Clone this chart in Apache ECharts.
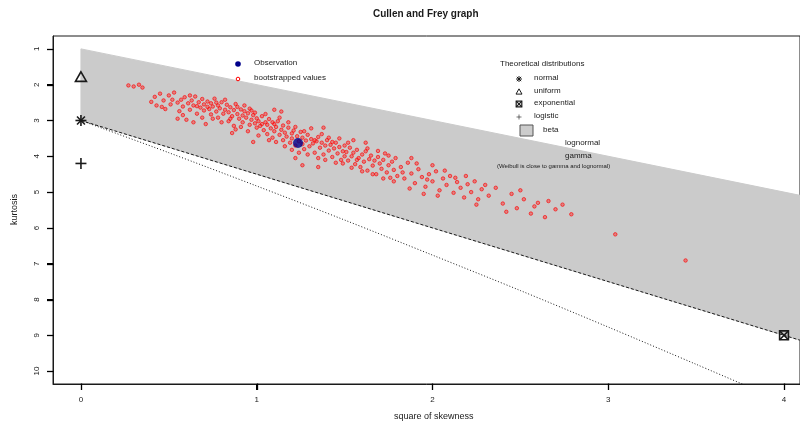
<!DOCTYPE html>
<html>
<head>
<meta charset="utf-8">
<script src="https://cdn.jsdelivr.net/npm/echarts@6/dist/echarts.min.js"></script>
<style>
  html, body { margin: 0; padding: 0; background: #fff; }
  #chart { width: 800px; height: 431px; }
</style>
</head>
<body>
<div id="chart"></div>
<script>
// Axis ticks
var xTicks = [0, 1, 2, 3, 4];
var yTicks = [1, 2, 3, 4, 5, 6, 7, 8, 9, 10];
var xRange = [-0.159, 4.091];
var yRange = [0.64, 10.36];

// Beta region corners (square of skewness, kurtosis)
var betaRegion = [[0, 1], [4.5, 5.5], [4.5, 9.75], [0, 3]];

// Gamma line (dashed) and lognormal curve (dotted)
var gammaLine = [[0, 3], [4.5, 9.75]];
var lognormLine = [[0, 3], [0.5, 3.90], [1, 4.83], [1.5, 5.78], [2, 6.76], [2.5, 7.75], [3, 8.77], [3.5, 9.81], [4, 10.86]];

// Theoretical distributions (points)
var theoNames = ['normal', 'uniform', 'exponential', 'logistic'];
var theoSkew = [0, 0, 4, 0];
var theoKurt = [3, 1.8, 9, 4.2];

// Observation
var obsPoint = [1.235, 3.63];

// Bootstrapped values
var bootPoints = [
  [0.27,2.02],[0.30,2.05],[0.33,2.00],[0.35,2.08],[0.40,2.48],[0.42,2.34],[0.43,2.58],[0.45,2.25],
  [0.47,2.44],[0.48,2.68],[0.50,2.30],[0.51,2.55],[0.53,2.22],[0.55,2.50],[0.56,2.74],
  [0.57,2.42],[0.58,2.61],[0.59,2.35],[0.60,2.98],[0.61,2.52],[0.62,2.70],[0.63,2.44],[0.64,2.58],
  [0.65,2.33],[0.66,2.81],[0.67,2.49],[0.68,2.64],[0.69,2.40],[0.70,2.72],[0.70,2.55],[0.71,3.10],
  [0.72,2.47],[0.73,2.68],[0.74,2.83],[0.74,2.52],[0.75,2.61],[0.76,2.39],[0.77,2.75],[0.78,2.58],
  [0.78,2.92],[0.79,2.66],[0.80,2.49],[0.81,2.81],[0.82,2.70],[0.83,2.56],[0.84,3.02],[0.84,2.77],
  [0.85,2.63],[0.86,2.88],[0.87,2.71],[0.88,2.54],[0.88,3.25],[0.89,2.82],[0.90,2.95],[0.91,2.69],
  [0.92,2.86],[0.92,3.05],[0.93,2.74],[0.94,2.92],[0.95,2.80],[0.96,3.12],[0.96,2.67],[0.97,2.98],
  [0.98,2.85],[0.99,3.08],[1.00,2.94],[1.00,3.20],
  [1.01,3.02],[1.02,3.15],[1.03,2.88],[1.04,3.27],[1.05,3.05],[1.06,3.38],[1.06,3.12],[1.07,2.96],
  [1.08,3.22],[1.09,3.48],[1.10,3.10],[1.10,3.30],[1.11,3.18],[1.12,3.02],[1.13,3.40],[1.14,3.26],
  [1.15,3.55],[1.15,3.14],[1.16,3.34],[1.17,3.45],[1.18,3.20],[1.19,3.62],[1.20,3.36],[1.20,3.50],
  [1.21,3.28],[1.22,3.70],[1.23,3.44],[1.24,3.58],[1.25,3.32],[1.26,3.66],[1.26,3.48],[1.27,3.80],
  [1.28,3.56],[1.29,3.40],[1.30,3.72],[1.31,3.52],[1.32,3.64],[1.33,3.90],[1.34,3.58],[1.35,3.46],
  [1.36,3.76],[1.37,3.62],[1.38,3.95],[1.39,3.70],[1.40,3.55],[1.41,3.84],[1.42,3.68],[1.43,4.02],
  [1.44,3.78],[1.45,3.62],[1.46,3.92],[1.47,3.74],[1.48,4.10],[1.49,3.86],[1.50,3.70],[1.50,4.00],
  [1.26,4.25],[1.35,4.30],[1.14,2.75],[1.22,4.05],
  [1.51,3.88],[1.52,4.12],[1.53,3.76],[1.54,4.00],[1.55,3.90],[1.56,4.22],[1.57,3.82],[1.58,4.05],
  [1.59,4.30],[1.60,3.95],[1.61,4.15],[1.62,3.86],[1.63,4.40],[1.64,4.08],[1.65,3.98],[1.66,4.26],
  [1.67,4.12],[1.68,4.50],[1.69,4.02],[1.70,4.20],[1.71,4.35],[1.72,4.10],[1.73,3.92],[1.74,4.45],
  [1.75,4.25],[1.76,4.60],[1.77,4.15],[1.78,4.38],[1.79,4.05],[1.80,4.55],[1.55,3.55],[1.62,3.62],
  [1.82,4.30],[1.84,4.62],[1.86,4.18],[1.88,4.48],[1.90,4.75],[1.92,4.36],[1.94,4.58],[1.96,4.85],
  [1.98,4.50],[2.00,4.70],[2.02,4.42],[2.04,4.95],[2.06,4.62],[2.08,4.80],[2.10,4.55],[2.12,5.02],
  [2.14,4.72],[2.16,4.88],[2.18,5.15],[2.20,4.78],[2.22,5.00],[2.24,4.70],[2.26,5.20],[2.28,4.92],
  [1.88,4.05],[2.00,4.25],[1.95,5.05],
  [2.32,5.10],[2.36,4.88],[2.40,5.32],[2.45,5.05],[2.48,5.45],[2.52,5.20],[2.56,5.60],[2.60,5.30],
  [2.64,5.70],[2.70,5.48],[2.74,5.35],[2.79,5.62],
  [3.04,6.18],[3.44,6.91],
  [0.46,2.62],[0.52,2.42],[0.58,2.85],[0.62,2.30],[0.66,2.60],[0.69,2.92],[0.72,2.62],[0.75,2.95],
  [0.77,2.50],[0.80,3.05],[0.82,2.42],[0.85,2.95],[0.87,3.15],[0.89,2.62],[0.91,3.18],[0.93,2.58],
  [0.95,3.30],[0.97,2.72],[0.99,2.78],[1.01,3.42],[1.03,3.10],[1.05,2.82],[1.07,3.55],[1.09,3.05],
  [1.11,3.60],[1.13,2.92],[1.16,3.72],[1.18,3.05],[1.20,3.82],[1.22,3.18],[1.24,3.90],[1.27,3.30],
  [1.29,3.95],[1.31,3.22],[1.33,3.55],[1.35,4.05],[1.37,3.38],[1.39,4.10],[1.41,3.48],[1.43,3.60],
  [1.45,4.18],[1.47,3.50],[1.49,4.20],[1.52,3.62],[1.54,4.32],[1.57,4.10],[1.60,4.42],[1.63,3.78],
  [1.66,4.50],[1.69,3.85],[1.72,4.62],[1.75,3.98],[1.78,4.70],[1.83,4.45],[1.87,4.90],[1.91,4.20],
  [1.97,4.65],[2.03,5.10],[2.07,4.40],[2.13,4.60],[2.19,4.55],[2.25,5.35],[2.30,4.80],[2.42,5.55],
  [2.50,4.95],[2.58,5.40],[2.66,5.25],[0.98,3.60],[0.86,3.35],[1.10,2.70],[1.38,3.20],[0.64,3.05],
  [0.55,2.95]
];

var FONT = '"Liberation Sans", Arial, sans-serif';
var INK = '#1a1a1a';

// Builds the line pieces of an R-style point symbol centred on (x, y)
function symbolShapes(kind, x, y, r, lw) {
  var st = { stroke: INK, lineWidth: lw, fill: null };
  function seg(x1, y1, x2, y2) {
    return { type: 'line', shape: { x1: x1, y1: y1, x2: x2, y2: y2 }, style: st, z: 100 };
  }
  if (kind === 0) {          // asterisk
    var d = r * 0.72;
    return [seg(x - r, y, x + r, y), seg(x, y - r, x, y + r),
            seg(x - d, y - d, x + d, y + d), seg(x - d, y + d, x + d, y - d)];
  } else if (kind === 1) {   // open triangle
    return [{ type: 'polygon', shape: { points: [[x, y - r * 1.05], [x - r, y + r * 0.7], [x + r, y + r * 0.7]] },
              style: { stroke: INK, lineWidth: lw, fill: 'rgba(0,0,0,0)' }, z: 100 }];
  } else if (kind === 2) {   // square with cross
    var s = r * 0.8;
    return [{ type: 'rect', shape: { x: x - s, y: y - s, width: 2 * s, height: 2 * s },
              style: { stroke: INK, lineWidth: lw, fill: 'rgba(0,0,0,0)' }, z: 100 },
            seg(x - s, y - s, x + s, y + s), seg(x - s, y + s, x + s, y - s)];
  }
  // plus
  return [seg(x - r, y, x + r, y), seg(x, y - r, x, y + r)];
}

function renderBeta(params, api) {
  var pts = betaRegion.map(function (p) { return api.coord(p); });
  return { type: 'polygon', shape: { points: pts }, style: { fill: '#cbcbcb', stroke: '#cbcbcb' } };
}

function renderTheo(params, api) {
  var c = api.coord([api.value(0), api.value(1)]);
  var kind = api.value(2);
  return { type: 'group', children: symbolShapes(kind, c[0], c[1], 5.5, 1.6) };
}

function legendText(x, y, str, size) {
  return { type: 'text', left: x, top: y - (size || 8) / 2 - 1, z: 100,
           style: { text: str, font: (size || 8) + 'px ' + FONT, fill: INK } };
}

var chart = echarts.init(document.getElementById('chart'));

var theoData = theoSkew.map(function (x, i) { return [x, theoKurt[i], i]; });
var tickData = xTicks.map(function (v) { return [v, yRange[1], 0]; })
  .concat(yTicks.map(function (v) { return [xRange[0], v, 1]; }));

var legendGraphics = [
  { type: 'text', left: 373, top: 9, z: 100,
    style: { text: 'Cullen and Frey graph', font: 'bold 10px ' + FONT, fill: INK } },
  { type: 'text', left: 394, top: 412, z: 100,
    style: { text: 'square of skewness', font: '9px ' + FONT, fill: INK } },
  { type: 'text', left: 10, top: 194, rotation: Math.PI / 2, originX: 0, originY: 0, z: 100,
    style: { text: 'kurtosis', font: '9px ' + FONT, fill: INK } },
  { type: 'circle', shape: { cx: 238, cy: 64, r: 2.8 }, style: { fill: '#00008b' }, z: 100 },
  legendText(254, 64, 'Observation'),
  { type: 'circle', shape: { cx: 238, cy: 79, r: 1.8 }, style: { fill: 'none', stroke: '#ff0000', lineWidth: 1 }, z: 100 },
  legendText(254, 79, 'bootstrapped values'),
  legendText(500, 65, 'Theoretical distributions'),
  { type: 'group', z: 100, children: symbolShapes(0, 519, 79, 3, 1) },
  legendText(534, 79, 'normal'),
  { type: 'group', z: 100, children: symbolShapes(1, 519, 92, 3, 1) },
  legendText(534, 92, 'uniform'),
  { type: 'group', z: 100, children: symbolShapes(2, 519, 104, 3.5, 1.2) },
  legendText(534, 104, 'exponential'),
  { type: 'group', z: 100, children: symbolShapes(3, 519, 117, 2.5, 0.6) },
  legendText(534, 117, 'logistic'),
  { type: 'rect', shape: { x: 520, y: 125, width: 13, height: 11 }, style: { fill: '#cccccc', stroke: '#555', lineWidth: 1 }, z: 100 },
  legendText(543, 131, 'beta'),
  legendText(565, 144, 'lognormal'),
  legendText(565, 157, 'gamma'),
  legendText(497, 167, '(Weibull is close to gamma and lognormal)', 6)
];

var option = {
  backgroundColor: '#fff',
  animation: false,
  grid: { left: 53, right: 0, top: 36, bottom: 47, show: true, borderColor: INK, borderWidth: 1 },
  xAxis: {
    type: 'value', min: xRange[0], max: xRange[1],
    axisLine: { show: true, onZero: false, lineStyle: { color: INK, width: 1 } },
    splitLine: { show: false },
    axisTick: { show: true, inside: false, length: 6, customValues: xTicks, lineStyle: { color: '#000', width: 1 } },
    axisLabel: { customValues: xTicks, color: INK, fontSize: 8, fontFamily: FONT, margin: 12 }
  },
  yAxis: {
    type: 'value', inverse: true, min: yRange[0], max: yRange[1],
    axisLine: { show: true, onZero: false, lineStyle: { color: INK, width: 1 } },
    splitLine: { show: false },
    axisTick: { show: true, inside: false, length: 6, customValues: yTicks, lineStyle: { color: '#000', width: 1 } },
    axisLabel: { customValues: yTicks, color: INK, fontSize: 8, fontFamily: FONT, rotate: 90, margin: 12 }
  },
  graphic: legendGraphics,
  series: [
    { type: 'custom', name: 'beta', renderItem: renderBeta, data: [betaRegion[0]], clip: true, z: 1, silent: true },
    { type: 'line', name: 'gamma', data: gammaLine, symbol: 'none', clip: true, z: 2,
      lineStyle: { color: INK, width: 1, type: [3, 2] } },
    { type: 'line', name: 'lognormal', data: lognormLine, symbol: 'none', smooth: 0.3, clip: true, z: 2,
      lineStyle: { color: INK, width: 1, type: [1, 2] } },
    { type: 'scatter', name: 'bootstrapped values', data: bootPoints, symbol: 'circle', symbolSize: 3.5, z: 3,
      itemStyle: { color: 'rgba(255,30,30,0.55)', borderColor: '#ff0000', borderWidth: 0.8 } },
    { type: 'scatter', name: 'Observation', data: [obsPoint], symbol: 'circle', symbolSize: 10, z: 4,
      itemStyle: { color: '#00008b' } },
    { type: 'custom', name: 'theoretical', renderItem: renderTheo, data: theoData, clip: false, z: 5,
      encode: { x: 0, y: 1 } }
  ]
};

chart.setOption(option);

// Outward tick marks on the box edges, placed through the chart's own scales
var tickLines = tickData.map(function (t) {
  var c = chart.convertToPixel({ gridIndex: 0 }, [t[0], t[1]]);
  var shape;
  if (t[2] === 1) {
    var y = Math.round(c[1]) + 0.5;
    shape = { x1: c[0] + 0.5, y1: y, x2: c[0] - 6, y2: y };
  } else {
    var x = Math.round(c[0]) + 0.5;
    shape = { x1: x, y1: c[1] - 0.5, x2: x, y2: c[1] + 6 };
  }
  return { type: 'line', shape: shape, style: { stroke: '#000', lineWidth: 1.3 }, z: 100 };
});
chart.setOption({ graphic: legendGraphics.concat(tickLines) });
</script>
</body>
</html>
